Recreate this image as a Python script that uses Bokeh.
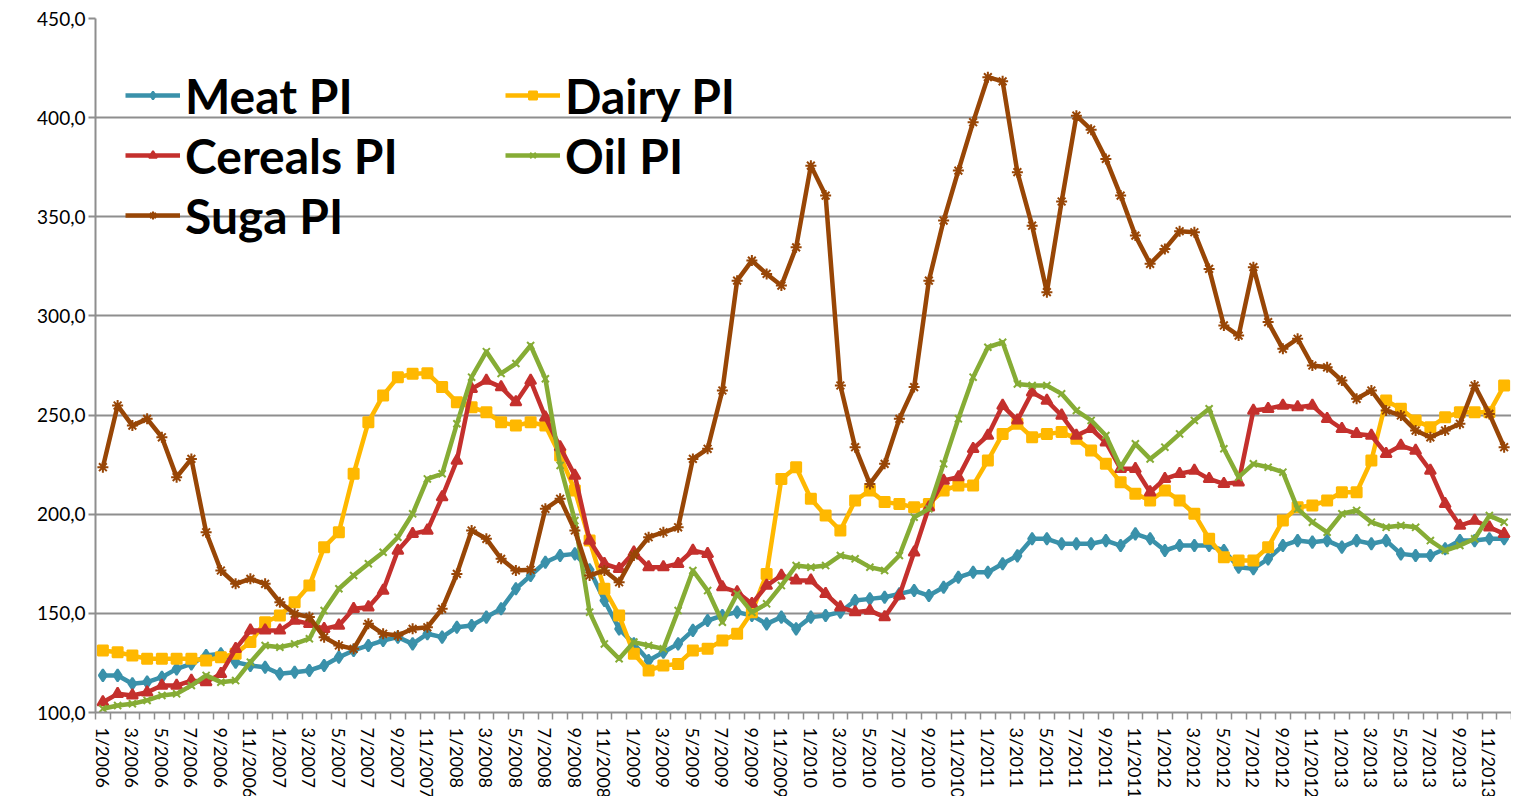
from bokeh.plotting import figure
from bokeh.models import (Range1d, FixedTicker, CustomJSTickFormatter, Legend, LegendItem)
from bokeh.embed import file_html
from bokeh.resources import INLINE

# ---- data (monthly, 1/2006 .. 12/2013) ----
years = list(range(2006, 2014))
months = [f"{m}/{y}" for y in years for m in range(1, 13)]

meat = [118.7, 118.7, 114.5, 115.3, 117.8, 122.0, 124.5, 128.7, 129.6, 125.4, 123.7, 122.8,
        119.5, 120.3, 121.2, 123.7, 127.9, 131.3, 133.8, 136.3, 138.0, 134.6, 139.7, 138.0,
        143.0, 143.9, 148.1, 152.3, 162.4, 169.1, 175.8, 179.2, 180.0, 172.0, 156.5, 142.2,
        134.6, 126.2, 130.4, 134.6, 141.4, 146.4, 148.9, 150.6, 148.9, 144.7, 148.1, 142.2,
        148.1, 148.9, 150.6, 156.5, 157.3, 158.1, 159.8, 161.5, 159.0, 163.2, 168.2, 170.7,
        170.7, 175.0, 179.0, 187.6, 187.6, 185.1, 185.1, 185.1, 186.7, 184.2, 190.1, 187.6,
        181.7, 184.2, 184.2, 184.2, 181.7, 173.3, 172.5, 177.5, 184.2, 186.7, 185.9, 186.7,
        183.4, 186.7, 185.1, 186.7, 180.0, 179.2, 179.2, 182.6, 186.7, 186.7, 187.6, 187.6]

dairy = [131.3, 130.4, 128.7, 127.1, 127.1, 127.1, 127.1, 126.2, 127.9, 129.6, 135.5, 145.5,
         148.9, 155.6, 164.0, 183.4, 190.9, 220.4, 246.4, 259.9, 269.1, 270.8, 271.1, 264.1,
         256.5, 254.0, 251.4, 246.4, 244.7, 246.4, 244.7, 229.6, 212.0, 186.7, 162.4, 148.9,
         129.6, 121.2, 123.7, 124.5, 131.3, 132.1, 136.3, 139.7, 150.6, 169.9, 217.8, 223.7,
         207.8, 199.3, 191.8, 206.9, 212.0, 206.1, 205.2, 203.5, 205.2, 212.0, 214.5, 214.5,
         227.1, 240.5, 245.6, 238.8, 240.5, 241.4, 238.0, 232.1, 225.4, 216.1, 210.3, 206.9,
         212.0, 206.9, 200.2, 187.6, 178.3, 176.7, 176.7, 183.4, 196.8, 203.5, 204.4, 206.9,
         211.1, 211.1, 227.1, 257.3, 253.2, 247.3, 243.9, 248.9, 251.4, 251.4, 251.4, 264.9]

cereals = [105.2, 109.4, 108.6, 110.2, 113.6, 113.6, 116.1, 115.3, 119.5, 132.1, 141.4, 141.4,
           141.4, 146.4, 144.7, 142.2, 143.9, 152.3, 153.1, 161.5, 181.7, 190.1, 191.8, 208.6,
           227.1, 263.2, 267.4, 264.1, 256.5, 267.4, 248.9, 233.8, 219.5, 186.7, 175.0, 172.5,
           180.8, 173.3, 173.3, 175.0, 181.7, 180.0, 163.2, 160.7, 154.8, 164.0, 169.1, 166.6,
           166.6, 159.8, 153.1, 150.6, 151.4, 148.1, 159.0, 180.8, 203.5, 217.0, 218.7, 233.0,
           239.7, 254.8, 247.3, 261.5, 257.3, 249.8, 239.7, 243.1, 236.3, 222.9, 222.9, 211.1,
           217.8, 220.4, 222.0, 217.8, 215.3, 216.1, 252.3, 253.2, 254.8, 254.0, 254.8, 248.1,
           243.1, 240.5, 239.7, 230.5, 234.6, 232.1, 222.0, 205.2, 194.3, 196.8, 193.4, 190.1]

oil = [101.9, 103.5, 104.4, 106.1, 108.6, 109.4, 113.6, 118.7, 115.3, 116.1, 125.4, 133.8,
       132.9, 134.6, 137.2, 151.4, 162.4, 169.1, 175.0, 180.8, 188.4, 200.2, 217.8, 220.4,
       245.6, 269.1, 282.0, 271.0, 276.0, 285.1, 268.3, 224.6, 196.8, 150.6, 134.6, 127.1,
       135.5, 133.8, 132.1, 151.4, 171.6, 161.5, 145.5, 159.8, 150.6, 154.8, 164.0, 174.1,
       173.3, 174.1, 179.2, 177.5, 173.3, 171.6, 179.2, 198.5, 202.7, 225.4, 248.1, 269.1,
       284.2, 286.7, 265.7, 264.9, 264.9, 260.7, 252.3, 247.3, 239.7, 223.7, 235.5, 227.9,
       233.8, 240.5, 247.3, 253.2, 233.0, 218.7, 225.4, 223.7, 221.2, 202.7, 196.0, 190.9,
       200.2, 201.9, 196.0, 193.4, 194.3, 193.4, 186.7, 181.7, 184.2, 187.6, 199.3, 196.0]

sugar = [223.7, 254.8, 244.7, 248.1, 238.8, 218.7, 227.9, 190.9, 171.6, 164.9, 167.4, 164.9,
         155.6, 149.8, 148.1, 138.0, 133.8, 132.1, 144.7, 139.7, 138.8, 142.2, 143.0, 152.3,
         169.9, 191.8, 187.6, 177.5, 171.6, 172.0, 202.7, 207.8, 191.8, 169.1, 171.6, 165.7,
         179.2, 188.4, 190.9, 193.4, 227.9, 233.0, 262.4, 317.8, 327.9, 321.2, 315.3, 334.6,
         375.8, 360.7, 264.9, 233.8, 215.3, 225.4, 248.1, 264.1, 317.8, 348.1, 373.3, 397.7,
         420.4, 418.3, 372.5, 345.5, 312.0, 357.7, 401.0, 393.9, 379.2, 360.7, 340.5, 326.3,
         333.8, 342.7, 342.2, 323.7, 295.2, 290.1, 324.6, 296.9, 283.4, 288.5, 275.0, 274.1,
         267.4, 258.2, 262.4, 252.3, 249.8, 242.2, 238.8, 242.2, 245.6, 264.9, 250.6, 233.8]

series_names = ["Meat PI", "Dairy PI", "Cereals PI", "Oil PI", "Suga PI"]
y_ticks = [100, 150, 200, 250, 300, 350, 400, 450]

# ---- figure ----
FONT = "Lato"
GRID = "#8E8E8E"
x = list(range(len(months)))

p = figure(frame_width=1416, frame_height=694, output_backend="svg", toolbar_location=None,
           x_range=Range1d(-0.5, len(months) - 0.5), y_range=Range1d(100, 450),
           min_border_left=95, min_border_right=0, min_border_top=18, min_border_bottom=20)
p.outline_line_color = None
p.background_fill_color = "white"
p.border_fill_color = "white"

p.xgrid.grid_line_color = None
p.ygrid.grid_line_color = GRID
p.ygrid.grid_line_width = 2

# y axis
p.yaxis.ticker = FixedTicker(ticks=y_ticks)
p.yaxis.formatter = CustomJSTickFormatter(code="return tick.toFixed(1).replace('.', ',');")
p.yaxis.axis_line_color = GRID
p.yaxis.axis_line_width = 2
p.yaxis.major_tick_line_color = GRID
p.yaxis.major_tick_line_width = 2
p.yaxis.major_tick_out = 7
p.yaxis.major_tick_in = 0
p.yaxis.minor_tick_line_color = None
p.yaxis.major_label_text_font = FONT
p.yaxis.major_label_text_font_size = "19px"
p.yaxis.major_label_text_color = "black"
p.yaxis.major_label_standoff = 3

# x axis
p.xaxis.ticker = FixedTicker(ticks=list(range(0, len(months), 2)),
                             minor_ticks=[i - 0.5 for i in range(len(months) + 1)])
p.xaxis.major_label_overrides = {i: months[i] for i in range(0, len(months), 2)}
p.xaxis.major_label_orientation = "vertical"
p.xaxis.axis_line_color = GRID
p.xaxis.axis_line_width = 2
p.xaxis.major_tick_line_color = None
p.xaxis.minor_tick_line_color = GRID
p.xaxis.minor_tick_line_width = 1.5
p.xaxis.minor_tick_out = 7
p.xaxis.minor_tick_in = 0
p.xaxis.major_label_text_font = FONT
p.xaxis.major_label_text_font_size = "18px"
p.xaxis.major_label_text_color = "black"
p.xaxis.major_label_standoff = 8

styles = [
    (meat, "#3A91AA", "diamond", 12),
    (dairy, "#FFB800", "square", 10),
    (cereals, "#C4302D", "triangle", 11),
    (oil, "#86AC35", "x", 10),
    (sugar, "#984606", "asterisk", 11),
]

items = {}
for (vals, col, mk, sz), name in zip(styles, series_names):
    lr = p.line(x, vals, line_color=col, line_width=4.5, line_join="round")
    sr = p.scatter(x, vals, marker=mk, size=sz, fill_color=col, line_color=col, line_width=2)
    items[name] = LegendItem(label=name, renderers=[lr, sr])

# legend fills column by column: first column Meat/Cereals/Suga, second Dairy/Oil
legend_order = ["Meat PI", "Cereals PI", "Suga PI", "Dairy PI", "Oil PI"]
legend = Legend(items=[items[n] for n in legend_order], ncols=2, location=(30, 467),
                glyph_width=55, glyph_height=20,
                label_text_font=FONT, label_text_font_size="48px", label_text_font_style="bold",
                label_text_color="black", label_standoff=5, label_width=320, label_height=60,
                spacing=0, padding=0, margin=0,
                border_line_color=None, background_fill_alpha=0)
p.add_layout(legend, "center")

open("out.html", "w").write(file_html(p, INLINE))
